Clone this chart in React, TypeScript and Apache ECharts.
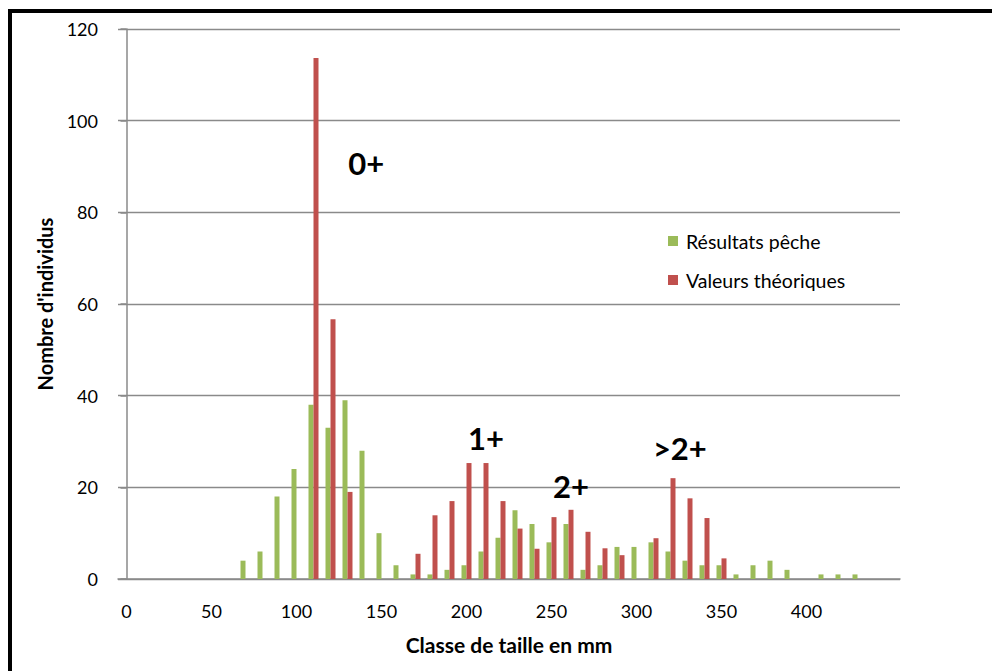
import React, { useEffect, useRef } from "react";
import * as echarts from "echarts";

const categories: string[] = [
  "0","10","20","30","40","50","60","70","80","90",
  "100","110","120","130","140","150","160","170","180","190",
  "200","210","220","230","240","250","260","270","280","290",
  "300","310","320","330","340","350","360","370","380","390",
  "400","410","420","430","440","450",
];

const peche: number[] = [
  0, 0, 0, 0, 0, 0, 0, 4, 6, 18,
  24, 38, 33, 39, 28, 10, 3, 1, 1, 2,
  3, 6, 9, 15, 12, 8, 12, 2, 3, 7,
  7, 8, 6, 4, 3, 3, 1, 3, 4, 2,
  0, 1, 1, 1, 0, 0,
];

const theoriques: number[] = [
  0, 0, 0, 0, 0, 0, 0, 0, 0, 0,
  0, 113.7, 56.7, 19, 0, 0, 0, 5.5, 13.9, 17,
  25.3, 25.3, 17, 11, 6.6, 13.5, 15.1, 10.3, 6.7, 5.2,
  0, 8.9, 22, 17.6, 13.3, 4.5, 0, 0, 0, 0,
  0, 0, 0, 0, 0, 0,
];

const shownTicks: string[] = ["0", "50", "100", "150", "200", "250", "300", "350", "400"];

const annotLabels: string[] = ["0+", "1+", "2+", ">2+"];
const annotX: number[] = [141, 211.5, 261.5, 325.5];
const annotY: number[] = [90.8, 30.8, 20.3, 28.6];

const GREEN = "#9BBB59";
const RED = "#C0504D";
const GRID = "#8a8a8a";
const FONT = "Lato, 'Open Sans', sans-serif";

export default function App() {
  const ref = useRef<HTMLDivElement>(null);

  useEffect(() => {
    if (!ref.current) return;
    const chart = echarts.init(ref.current, undefined, { renderer: "svg" });
    const option: any = {
      animation: false,
      backgroundColor: "#ffffff",
      textStyle: { fontFamily: FONT },
      graphic: [
        {
          type: "rect",
          shape: { x: 10, y: 11, width: 1200, height: 900 },
          style: { fill: "none", stroke: "#000", lineWidth: 4 },
          silent: true,
        },
      ],
      grid: { left: 118, top: 29, width: 782, height: 550, containLabel: false },
      legend: {
        orient: "vertical",
        left: 663,
        top: 226,
        itemWidth: 10,
        itemHeight: 10,
        itemGap: 19,
        icon: "rect",
        data: ["Résultats pêche", "Valeurs théoriques"],
        textStyle: { fontFamily: FONT, fontSize: 19.5, color: "#000", padding: [0, 0, 0, 3] },
      },
      xAxis: [
        {
          type: "category",
          data: categories,
          boundaryGap: true,
          axisLine: { show: true, lineStyle: { color: GRID, width: 1.5 } },
          axisTick: { show: false },
          axisLabel: {
            interval: (i: number, v: string) => shownTicks.indexOf(v) >= 0,
            color: "#000",
            fontFamily: FONT,
            fontSize: 18,
            margin: 23,
          },
          splitLine: { show: false },
          name: "Classe de taille en mm",
          nameLocation: "middle",
          nameGap: 55,
          nameTextStyle: { fontFamily: FONT, fontSize: 21, fontWeight: "bold", color: "#000" },
        },
        {
          type: "value",
          min: -5,
          max: 455,
          show: false,
        },
      ],
      yAxis: {
        type: "value",
        min: 0,
        max: 120,
        interval: 20,
        axisLine: { show: true, lineStyle: { color: GRID, width: 1.5 } },
        axisTick: { show: true, inside: false, length: 6, lineStyle: { color: GRID, width: 1.5 } },
        axisLabel: { color: "#000", fontFamily: FONT, fontSize: 18, margin: 20 },
        splitLine: { show: true, lineStyle: { color: GRID, width: 1.3 } },
        name: "Nombre d'individus",
        nameLocation: "middle",
        nameGap: 63,
        nameTextStyle: { fontFamily: FONT, fontSize: 20, fontWeight: "bold", color: "#000" },
      },
      series: [
        {
          name: "Résultats pêche",
          type: "bar",
          xAxisIndex: 0,
          data: peche,
          barWidth: 5,
          barGap: "0%",
          itemStyle: { color: GREEN },
        },
        {
          name: "Valeurs théoriques",
          type: "bar",
          xAxisIndex: 0,
          data: theoriques,
          barWidth: 5,
          barGap: "0%",
          itemStyle: { color: RED },
        },
        {
          name: "annotations",
          type: "scatter",
          xAxisIndex: 1,
          symbolSize: 0,
          silent: true,
          itemStyle: { opacity: 1, color: "#000" },
          data: annotLabels.map((l, i) => ({ value: [annotX[i], annotY[i]], name: l })),
          label: {
            show: true,
            position: "inside",
            formatter: (p: any) => p.name,
            fontFamily: FONT,
            fontSize: 31,
            fontWeight: "bold",
            color: "#000",
            opacity: 1,
            textBorderWidth: 0,
            textBorderColor: "transparent",
          },
        },
      ],
    };
    chart.setOption(option);
    return () => chart.dispose();
  }, []);

  return (
    <div
      ref={ref}
      style={{ position: "fixed", left: 0, top: 0, width: 992, height: 671 }}
    />
  );
}
